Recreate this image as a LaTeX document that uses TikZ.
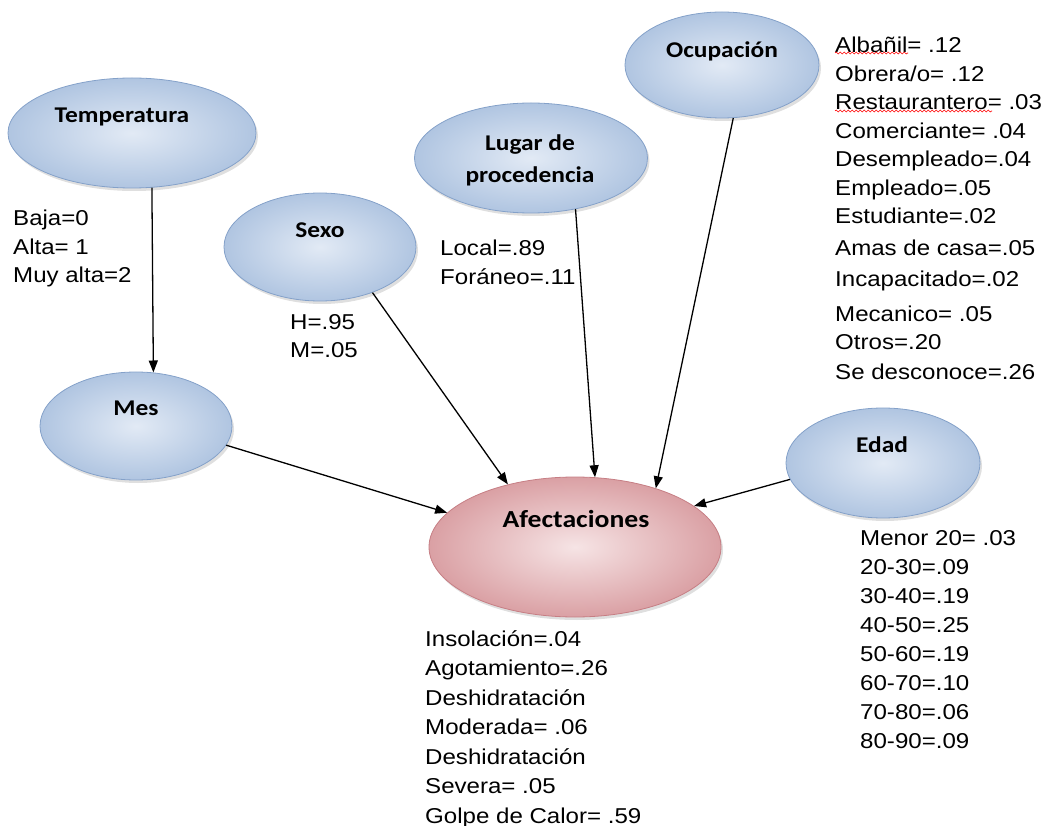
\documentclass[tikz,border=0pt]{standalone}
\usepackage{fontspec}
\setmainfont{Liberation Sans}
\newfontfamily\valfont[FakeStretch=1.12]{Liberation Sans}
\newfontfamily\capfont[FakeStretch=1.13]{Carlito}
\usetikzlibrary{arrows.meta, shapes.geometric, shadows, decorations.pathmorphing}
\definecolor{bubblein}{RGB}{226,234,245}
\definecolor{bubbleout}{RGB}{176,197,225}
\definecolor{bubbleline}{RGB}{132,161,201}
\definecolor{targetin}{RGB}{246,228,229}
\definecolor{targetout}{RGB}{218,160,164}
\definecolor{targetline}{RGB}{198,126,132}

\begin{document}
\begin{tikzpicture}[x=1pt, y=-1pt]
      \tikzset{
        bubble/.style={
          ellipse, draw=bubbleline, line width=0.8pt, inner sep=0pt,
          shading=radial, inner color=bubblein, outer color=bubbleout,
          drop shadow={shadow xshift=2pt, shadow yshift=-3pt, opacity=0.25}
        },
        target/.style={
          bubble, draw=targetline, inner color=targetin, outer color=targetout
        },
        title/.style={
          font=\capfont\bfseries\fontsize{22.5}{32}\selectfont,
          anchor=mid, inner sep=0pt, align=center
        },
        values/.style={
          font=\valfont\fontsize{21.5}{28.5}\selectfont,
          anchor=north west, inner sep=0pt, align=left
        },
        link/.style={-{Triangle[length=12pt,width=9pt]}, line width=1.3pt},
        typo/.style={red, line width=0.6pt, decorate,
          decoration={snake, amplitude=1pt, segment length=4pt}}
      }
      \useasboundingbox (0,0) rectangle (1053,826);

      \node[bubble, minimum width=248, minimum height=110] (temp) at (132,133) {};
      \node[bubble, minimum width=192, minimum height=108] (sexo) at (320,247) {};
      \node[bubble, minimum width=233, minimum height=110] (lugar) at (531,158) {};
      \node[bubble, minimum width=194, minimum height=106] (ocup) at (722,65) {};
      \node[bubble, minimum width=192, minimum height=108] (mes) at (136,426) {};
      \node[bubble, minimum width=194, minimum height=110] (edad) at (883,463) {};
      \node[target, minimum width=292, minimum height=140] (afect) at (575,547) {};

      \node[title] (temp-t) at (122,120) {Temperatura};
      \node[title] (sexo-t) at (320,235) {Sexo};
      \node[title, anchor=center] (lugar-t) at (530,160) {Lugar de\\procedencia};
      \node[title] (ocup-t) at (722,55) {Ocupación};
      \node[title] (mes-t) at (136,413) {Mes};
      \node[title] (edad-t) at (882,450) {Edad};
      \node[title, font=\capfont\bfseries\fontsize{24.5}{30}\selectfont] (afect-t) at (576,525) {Afectaciones};

      \node[values] (temp-v) at (13,210) {Baja=0\\Alta= 1\\Muy alta=2};
      \node[values] (sexo-v) at (290,314) {H=.95\\M=.05};
      \node[values] (lugar-v) at (440,240) {Local=.89\\Foráneo=.11};
      \node[values] (ocup-v) at (835,37) {Albañil= .12\\Obrera/o= .12\\Restaurantero= .03\\Comerciante= .04\\Desempleado=.04\\Empleado=.05\\Estudiante=.02\\[3pt]Amas de casa=.05\\[3pt]Incapacitado=.02\\[6pt]Mecanico= .05\\Otros=.20\\[1pt]Se desconoce=.26};
      \node[values, font=\valfont\fontsize{21.5}{29}\selectfont] (edad-v) at (860,530) {Menor 20= .03\\20-30=.09\\30-40=.19\\40-50=.25\\50-60=.19\\60-70=.10\\70-80=.06\\80-90=.09};
      \node[values, font=\valfont\fontsize{21.5}{29.5}\selectfont] (afect-v) at (425,630) {Insolación=.04\\Agotamiento=.26\\Deshidratación\\Moderada= .06\\Deshidratación\\Severa= .05\\Golpe de Calor= .59};

      \draw[typo] (835,53) -- (908,53);
      \draw[typo] (835,111) -- (992,111);

      \draw[link] (temp.-70) -- (mes.72);
      \draw[link] (mes.-12) -- (afect.165);
      \draw[link] (sexo.-41) -- (afect.137);
      \draw[link] (lugar.-49) -- (afect.74);
      \draw[link] (ocup.-78) -- (afect.36);
      \draw[link] (edad.190) -- (afect.19);
    \end{tikzpicture}
\end{document}
